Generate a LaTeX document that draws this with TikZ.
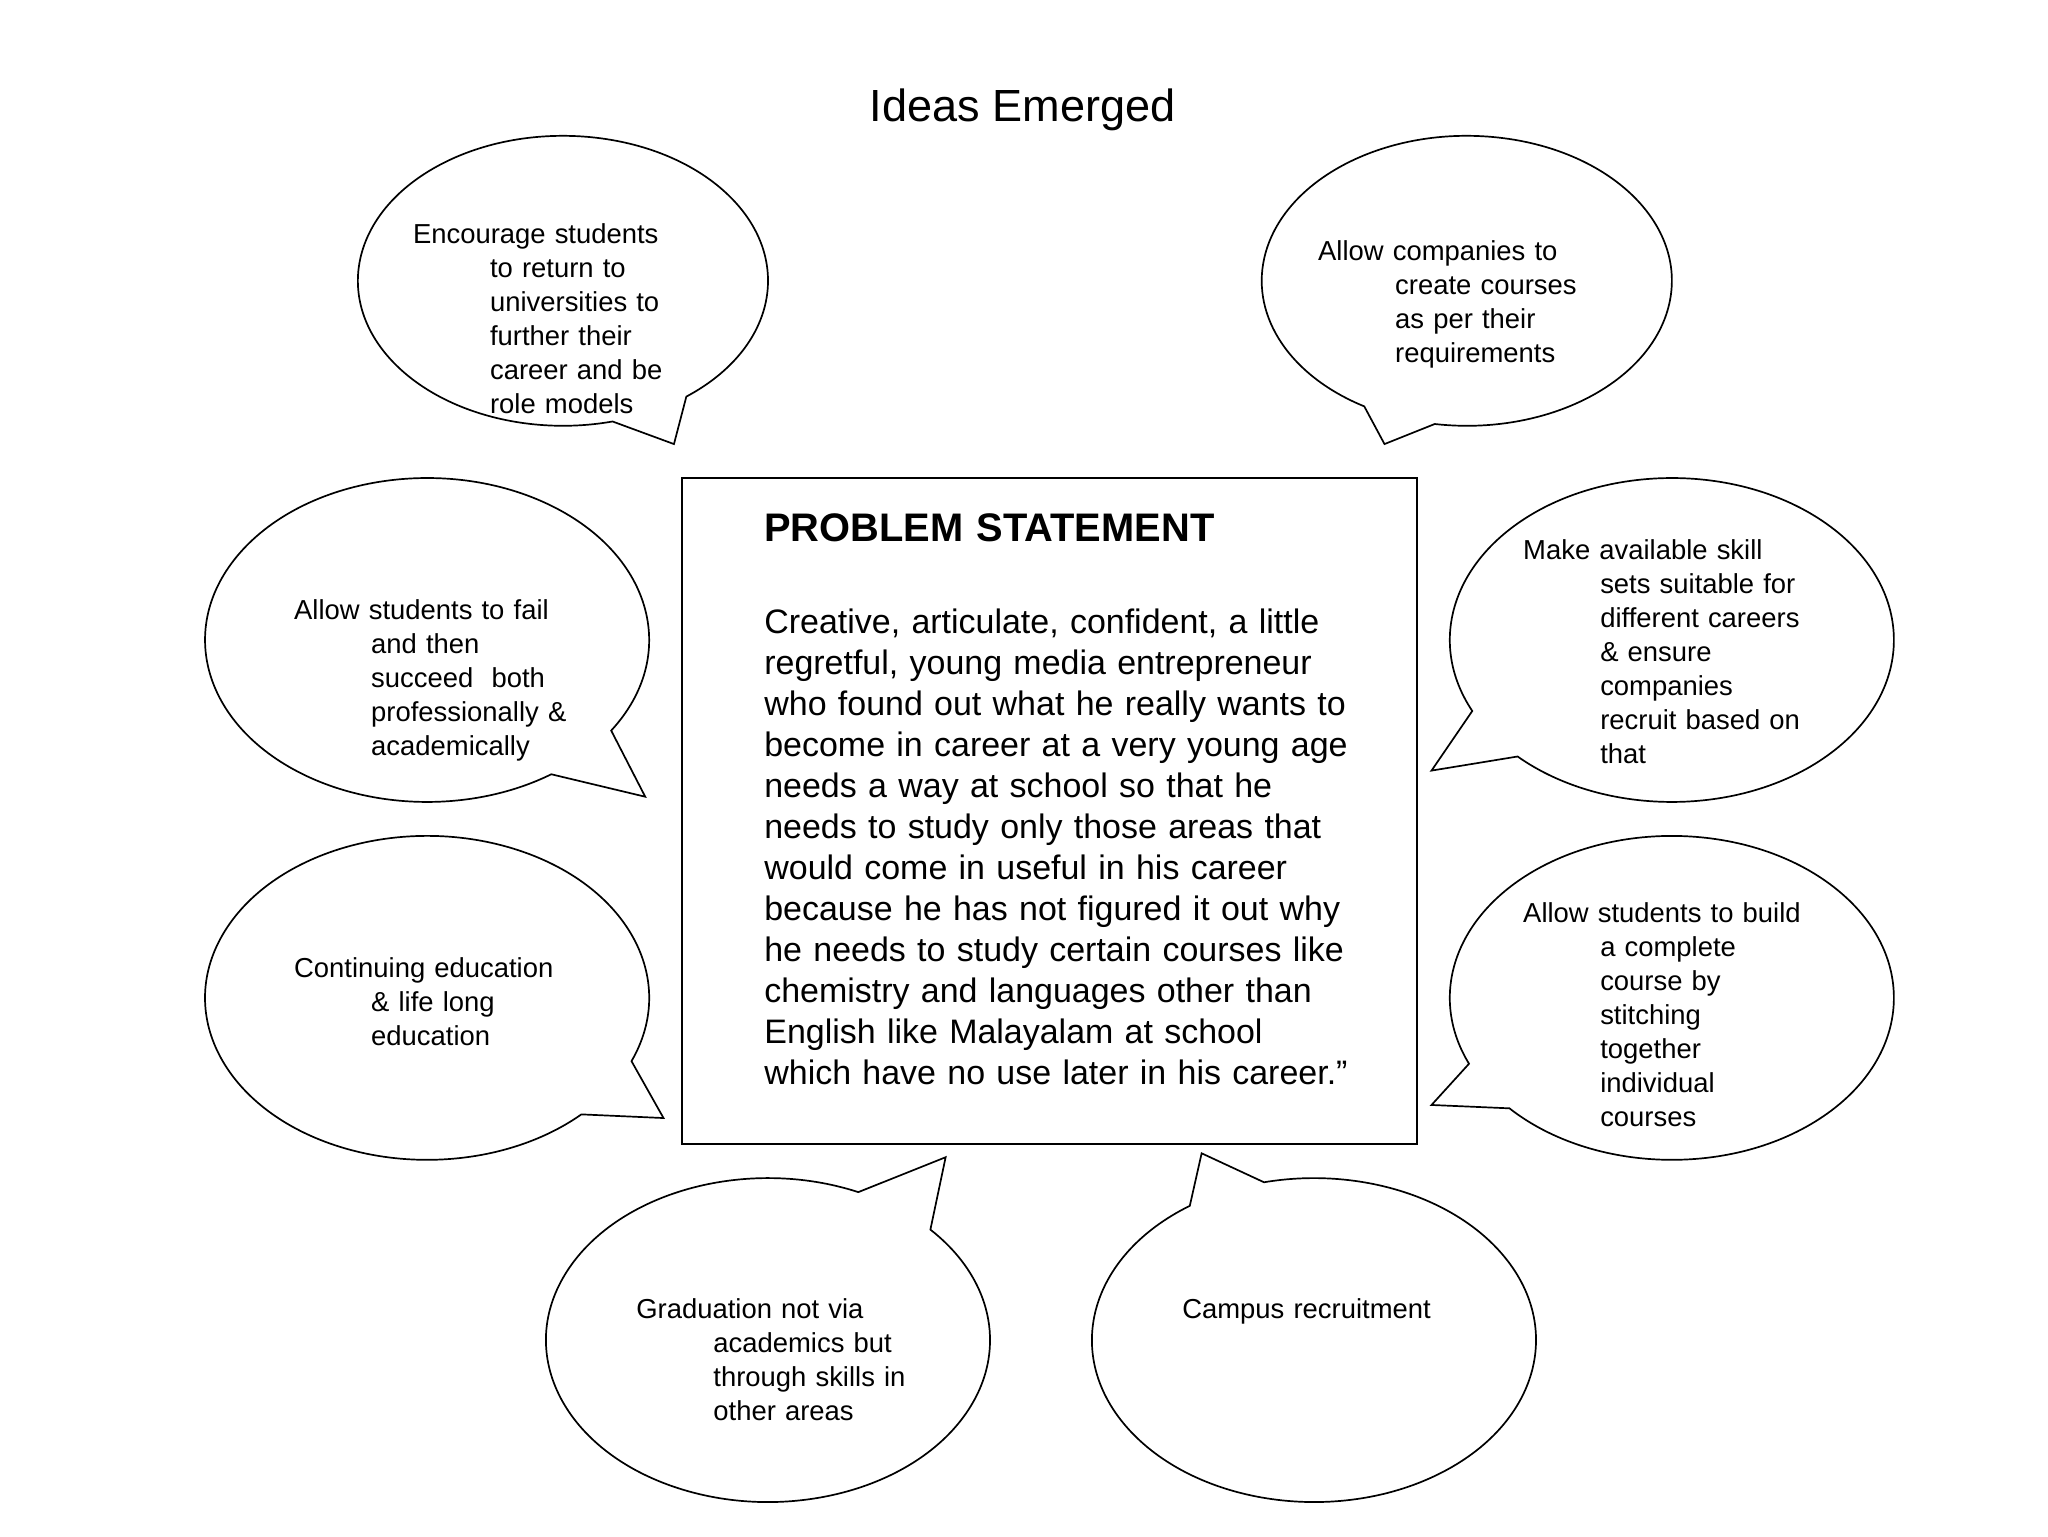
\documentclass[tikz,border=0pt]{standalone}
\usepackage{fontspec}
\setmainfont{Liberation Sans}
\tikzset{
 bub/.style={draw=black,line width=1.3pt,fill=white,line join=miter},
 txt/.style={anchor=north west,inner sep=0pt,align=left,text width=400pt,font=\fontsize{21}{26}\selectfont},
 ptxt/.style={anchor=north west,inner sep=0pt,align=left,text width=460pt,font=\fontsize{26}{31.4}\selectfont}
}
% cx cy rx ry t_start t_end(+360) tipx tipy
\newcommand{\mycallout}[8]{%
 \draw[bub] ({#1+#3*cos(#5)},{#2+#4*sin(#5)}) arc[start angle=#5,end angle=#6,x radius=#3,y radius=#4] -- (#7,#8) -- cycle;}
\newcommand{\hg}{\hspace*{59pt}}
\begin{document}
\begin{tikzpicture}[x=1pt,y=1pt]
\useasboundingbox[fill=white] (0,0) rectangle (1568,1176);
\node[inner sep=0pt,font=\fontsize{34.5}{40}\selectfont] (title) at (783,1092) {Ideas Emerged};
\mycallout{431}{961}{157}{111}{-53}{284}{516}{836}
\mycallout{1123}{961}{157}{111}{261}{600}{1060}{836}
\mycallout{327}{686}{170}{124}{-34}{304}{494}{566}
\mycallout{1280}{686}{170}{124}{226}{566}{1096}{586}
\mycallout{327}{412}{170}{124}{-23}{314}{508}{320}
\mycallout{1280}{412}{170}{124}{223}{564}{1096}{330}
\mycallout{588}{150}{170}{124}{66}{403}{724}{290}
\mycallout{1006}{150}{170}{124}{124}{463}{920}{293}
\draw[line width=1.3pt] (522,810) rectangle (1085,300);
\node[txt] (c1) at (316,1005) {Encourage students\\\hg to return to\\\hg universities to\\\hg further their\\\hg career and be\\\hg role models};
\node[txt] (c2) at (1009,992) {Allow companies to\\\hg create courses\\\hg as per their\\\hg requirements};
\node[txt] (c3) at (225,717) {Allow students to fail\\\hg and then\\\hg succeed\ \ both\\\hg professionally \&\\\hg academically};
\node[txt] (c4) at (1166,763) {Make available skill\\\hg sets suitable for\\\hg different careers\\\hg \& ensure\\\hg companies\\\hg recruit based on\\\hg that};
\node[txt] (c5) at (225,443) {Continuing education\\\hg \& life long\\\hg education};
\node[txt] (c6) at (1166,485) {Allow students to build\\\hg a complete\\\hg course by\\\hg stitching\\\hg together\\\hg individual\\\hg courses};
\node[txt] (c7) at (487,182) {Graduation not via\\\hg academics but\\\hg through skills in\\\hg other areas};
\node[txt] (c8) at (905,182) {Campus recruitment};
\node[ptxt,font=\bfseries\fontsize{30.5}{34}\selectfont] (ph) at (585,783) {PROBLEM STATEMENT};
\node[ptxt] (pb) at (585,710) {Creative, articulate, confident, a little\\regretful, young media entrepreneur\\who found out what he really wants to\\become in career at a very young age\\needs a way at school so that he\\needs to study only those areas that\\would come in useful in his career\\because he has not figured it out why\\he needs to study certain courses like\\chemistry and languages other than\\English like Malayalam at school\\which have no use later in his career.”};
\end{tikzpicture}
\end{document}
